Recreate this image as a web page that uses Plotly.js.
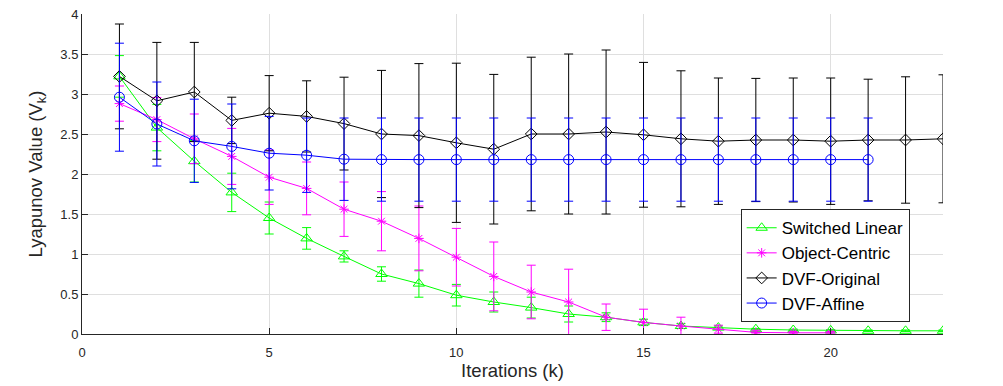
<!DOCTYPE html>
<html>
<head>
<meta charset="utf-8">
<script src="https://cdn.plot.ly/plotly-3.0.1.min.js"></script>
<style>
  html, body { margin: 0; padding: 0; background: #fff; }
  #chart { width: 1003px; height: 386px; }
</style>
</head>
<body>
<div id="chart"></div>
<script>
// iterations
const iterLinear = [1, 2, 3, 4, 5, 6, 7, 8, 9, 10, 11, 12, 13, 14, 15, 16, 17, 18, 19, 20, 21, 22, 23];
const iterObject = [1, 2, 3, 4, 5, 6, 7, 8, 9, 10, 11, 12, 13, 14, 15, 16, 17, 18, 19, 20];
const iterOriginal = [1, 2, 3, 4, 5, 6, 7, 8, 9, 10, 11, 12, 13, 14, 15, 16, 17, 18, 19, 20, 21, 22, 23];
const iterAffine = [1, 2, 3, 4, 5, 6, 7, 8, 9, 10, 11, 12, 13, 14, 15, 16, 17, 18, 19, 20, 21];

// Switched Linear
const linearMean = [3.22, 2.58, 2.16, 1.77, 1.45, 1.195, 0.97, 0.75, 0.63, 0.485, 0.40, 0.33, 0.25, 0.21, 0.145, 0.10, 0.08, 0.06, 0.05, 0.045, 0.04, 0.04, 0.04];
const linearErr = [0.26, 0.29, 0.26, 0.24, 0.2, 0.135, 0.07, 0.09, 0.17, 0.135, 0.125, 0.13, 0.1, 0.055, 0.04, 0.03, 0.02, 0.01, 0.01, 0.01, 0.01, 0.01, 0.01];

// Object-Centric
const objectMean = [2.88, 2.68, 2.44, 2.22, 1.96, 1.82, 1.56, 1.41, 1.195, 0.96, 0.72, 0.525, 0.40, 0.21, 0.145, 0.10, 0.06, 0.02, 0.015, 0.015];
const objectErr = [0.22, 0.275, 0.31, 0.35, 0.34, 0.33, 0.34, 0.37, 0.405, 0.36, 0.43, 0.335, 0.41, 0.165, 0.165, 0.11, 0.05, 0.02, 0.015, 0.015];

// DVF-Original
const originalMean = [3.22, 2.915, 3.025, 2.67, 2.76, 2.72, 2.63, 2.50, 2.48, 2.39, 2.31, 2.50, 2.50, 2.525, 2.49, 2.44, 2.41, 2.425, 2.425, 2.41, 2.425, 2.425, 2.44];
const originalErr = [0.655, 0.73, 0.62, 0.29, 0.47, 0.445, 0.58, 0.795, 0.90, 0.995, 0.935, 0.96, 1.00, 1.025, 0.905, 0.85, 0.79, 0.77, 0.775, 0.79, 0.76, 0.79, 0.80];

// DVF-Affine
const affineMean = [2.96, 2.625, 2.415, 2.345, 2.26, 2.235, 2.185, 2.18, 2.18, 2.18, 2.18, 2.18, 2.18, 2.18, 2.18, 2.18, 2.18, 2.18, 2.18, 2.18, 2.18];
const affineErr = [0.675, 0.525, 0.52, 0.53, 0.46, 0.465, 0.515, 0.52, 0.52, 0.52, 0.52, 0.52, 0.52, 0.52, 0.52, 0.52, 0.52, 0.52, 0.52, 0.52, 0.52];

const xTicks = [0, 5, 10, 15, 20];
const yTicks = [0, 0.5, 1, 1.5, 2, 2.5, 3, 3.5, 4];

const fontFamily = 'Liberation Sans, Arial, sans-serif';

function series(name, x, y, err, color, symbol, size) {
    return {
        x: x,
        y: y,
        name: name,
        type: 'scatter',
        mode: 'lines+markers',
        line: { color: color, width: 1 },
        marker: { symbol: symbol, size: size, color: color, line: { color: color, width: 1 } },
        error_y: { type: 'data', array: err, visible: true, color: color, thickness: 1, width: 4.5 },
        cliponaxis: true
    };
}

const traces = [
    series('Switched Linear', iterLinear, linearMean, linearErr, '#00ff00', 'triangle-up-open', 10),
    series('Object-Centric', iterObject, objectMean, objectErr, '#ff00ff', 'asterisk-open', 8),
    series('DVF-Original', iterOriginal, originalMean, originalErr, '#000000', 'diamond-open', 9),
    series('DVF-Affine', iterAffine, affineMean, affineErr, '#0000ff', 'circle-open', 10)
];

const tickFont = { family: fontFamily, size: 13, color: '#262626' };
const titleFont = { family: fontFamily, size: 18.5, color: '#262626' };

const layout = {
    width: 1003,
    height: 386,
    margin: { l: 82, r: 60, t: 14, b: 52 },
    paper_bgcolor: 'white',
    plot_bgcolor: 'white',
    font: { family: fontFamily, color: '#262626' },
    showlegend: true,
    xaxis: {
        range: [0, 23],
        tickvals: xTicks,
        ticks: 'inside',
        ticklen: 6,
        tickcolor: '#262626',
        ticklabelstandoff: 6,
        showline: true,
        linecolor: '#262626',
        linewidth: 1,
        showgrid: true,
        gridcolor: '#dfdfdf',
        zeroline: false,
        tickfont: tickFont,
        title: { text: 'Iterations (k)', font: titleFont, standoff: 4 }
    },
    yaxis: {
        range: [0, 4],
        tickvals: yTicks,
        ticks: 'inside',
        ticklen: 6,
        tickcolor: '#262626',
        showline: true,
        linecolor: '#262626',
        linewidth: 1,
        showgrid: true,
        gridcolor: '#dfdfdf',
        zeroline: false,
        tickfont: tickFont,
        title: { text: 'Lyapunov Value (V<sub>k</sub>)', font: titleFont, standoff: 12 }
    },
    legend: {
        x: 0.765,
        y: 0.39,
        xanchor: 'left',
        yanchor: 'top',
        bgcolor: 'white',
        bordercolor: '#262626',
        borderwidth: 1,
        font: { family: fontFamily, size: 17, color: '#000000' },
        tracegroupgap: 0
    }
};

Plotly.newPlot('chart', traces, layout, { displayModeBar: false, staticPlot: true });
</script>
</body>
</html>
